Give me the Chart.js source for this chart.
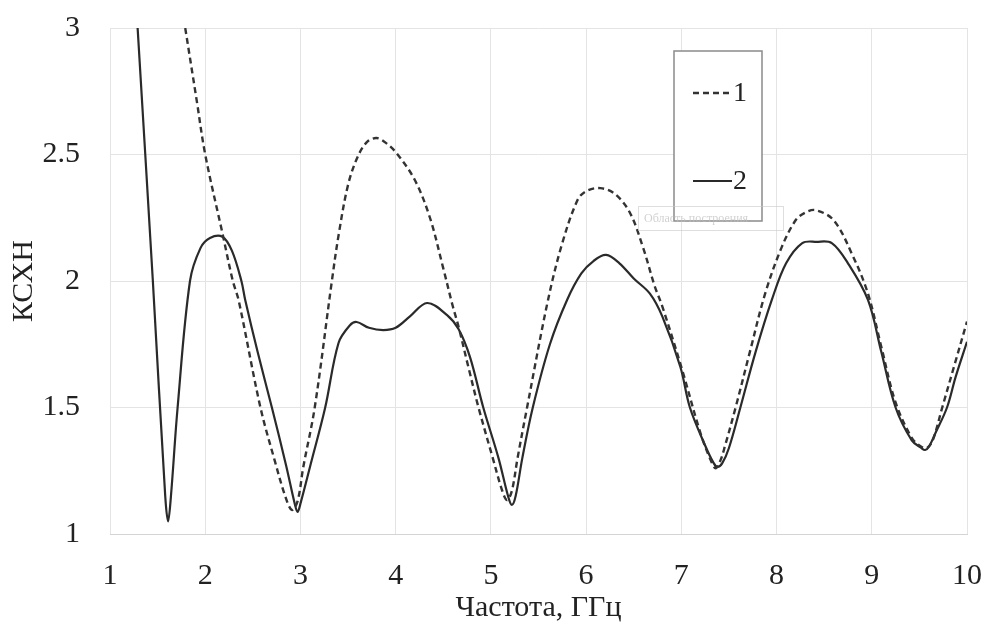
<!DOCTYPE html>
<html>
<head>
<meta charset="utf-8">
<script src="https://cdn.jsdelivr.net/npm/chart.js@4/dist/chart.umd.min.js"></script>
<style>
  body { margin: 0; background: #fff; }
  #wrap { width: 985px; height: 628px; }
</style>
</head>
<body>
<div id="wrap"><canvas id="myChart" width="985" height="628"></canvas></div>
<script>
// curve 1 (dashed)
var freq1 = [1.79, 1.91, 2.0, 2.18, 2.29, 2.35, 2.58, 2.73, 2.84, 2.91, 2.97, 3.03, 3.15, 3.33, 3.4, 3.5, 3.6, 3.7, 3.8, 3.9, 4.01, 4.2, 4.36, 4.5, 4.6, 4.66, 4.77, 4.87, 5.02, 5.12, 5.17, 5.22, 5.28, 5.38, 5.6, 5.75, 5.91, 6.0, 6.15, 6.3, 6.46, 6.6, 6.72, 6.8, 7.0, 7.2, 7.31, 7.36, 7.41, 7.46, 7.57, 7.72, 7.88, 8.05, 8.2, 8.3, 8.41, 8.6, 8.8, 8.96, 9.1, 9.25, 9.42, 9.52, 9.58, 9.64, 9.74, 9.87, 10];
var kshn1 = [3.0, 2.715, 2.5, 2.19, 2.0, 1.925, 1.5, 1.29, 1.15, 1.095, 1.13, 1.265, 1.5, 2.0, 2.18, 2.38, 2.49, 2.55, 2.565, 2.545, 2.505, 2.4, 2.25, 2.05, 1.9, 1.82, 1.65, 1.5, 1.3, 1.17, 1.134, 1.17, 1.3, 1.5, 1.925, 2.15, 2.32, 2.355, 2.367, 2.345, 2.27, 2.13, 1.98, 1.9, 1.66, 1.4, 1.29, 1.26, 1.29, 1.35, 1.5, 1.72, 1.95, 2.13, 2.24, 2.27, 2.28, 2.24, 2.1, 1.95, 1.74, 1.52, 1.38, 1.345, 1.34, 1.37, 1.5, 1.67, 1.84];

// curve 2 (solid)
var freq2 = [1.29, 1.45, 1.58, 1.61, 1.64, 1.71, 1.84, 1.95, 2.05, 2.18, 2.28, 2.38, 2.42, 2.55, 2.7, 2.85, 2.94, 2.97, 3.0, 3.1, 3.26, 3.4, 3.52, 3.59, 3.72, 3.87, 4.0, 4.15, 4.33, 4.54, 4.66, 4.78, 4.92, 5.08, 5.18, 5.22, 5.26, 5.33, 5.44, 5.62, 5.8, 5.95, 6.08, 6.21, 6.35, 6.5, 6.67, 6.8, 6.99, 7.09, 7.25, 7.34, 7.38, 7.43, 7.5, 7.62, 7.78, 7.95, 8.1, 8.27, 8.42, 8.58, 8.75, 8.96, 9.1, 9.25, 9.42, 9.52, 9.56, 9.6, 9.67, 9.79, 9.88, 10];
var kshn2 = [3.0, 2.0, 1.15, 1.05, 1.15, 1.5, 2.0, 2.13, 2.17, 2.175, 2.12, 2.0, 1.925, 1.72, 1.5, 1.27, 1.12, 1.087, 1.12, 1.265, 1.5, 1.755, 1.825, 1.838, 1.815, 1.806, 1.815, 1.86, 1.913, 1.865, 1.81, 1.7, 1.5, 1.3, 1.15, 1.115, 1.15, 1.3, 1.5, 1.75, 1.925, 2.03, 2.08, 2.103, 2.07, 2.01, 1.95, 1.86, 1.66, 1.5, 1.35, 1.28, 1.265, 1.28, 1.34, 1.5, 1.72, 1.925, 2.07, 2.15, 2.155, 2.15, 2.07, 1.925, 1.72, 1.5, 1.37, 1.34, 1.332, 1.345, 1.4, 1.5, 1.62, 1.76];

var labels = ['1', '2'];
var xTitle = 'Частота, ГГц';
var yTitle = 'КСХН';

function toPoints(xs, ys) {
  var pts = [];
  for (var i = 0; i < xs.length; i++) {
    pts.push({ x: xs[i], y: ys[i] });
  }
  return pts;
}

var serif = "'Liberation Serif', 'Times New Roman', serif";

// legend box + the faint "plot area" hint, drawn by hand like the picture
var boxLegend = {
  id: 'boxLegend',
  afterDraw: function(chart) {
    var c = chart.ctx;
    c.save();
    c.fillStyle = '#fff';
    c.fillRect(674, 51, 88, 170);
    c.strokeStyle = '#8a8a8a';
    c.lineWidth = 1.5;
    c.strokeRect(674, 51, 88, 170);

    var rows = [93, 181];
    chart.data.datasets.forEach(function(ds, i) {
      var y = rows[i];
      c.beginPath();
      c.setLineDash(ds.borderDash || []);
      c.strokeStyle = ds.borderColor;
      c.lineWidth = ds.borderWidth;
      c.moveTo(693, y);
      c.lineTo(732, y);
      c.stroke();
      c.setLineDash([]);
      c.fillStyle = '#222';
      c.font = '28px ' + serif;
      c.textAlign = 'left';
      c.textBaseline = 'middle';
      c.fillText(ds.label, 733, y + 1);
    });

    // faint excel tooltip
    c.strokeStyle = 'rgba(200,200,200,0.6)';
    c.lineWidth = 1;
    c.strokeRect(638.5, 206.5, 145, 24);
    c.fillStyle = 'rgba(190,190,190,0.7)';
    c.font = '12px ' + serif;
    c.textBaseline = 'middle';
    c.textAlign = 'left';
    c.fillText('Область построения', 644, 219);
    c.restore();
  }
};

var ctx = document.getElementById('myChart').getContext('2d');
var myChart = new Chart(ctx, {
  type: 'line',
  data: {
    datasets: [
      {
        label: labels[0],
        data: toPoints(freq1, kshn1),
        borderColor: '#333',
        borderWidth: 2.4,
        borderDash: [6, 4],
        pointRadius: 0,
        tension: 0.35,
        fill: false
      },
      {
        label: labels[1],
        data: toPoints(freq2, kshn2),
        borderColor: '#2a2a2a',
        borderWidth: 2.2,
        pointRadius: 0,
        tension: 0.35,
        fill: false
      }
    ]
  },
  options: {
    responsive: false,
    animation: false,
    layout: { padding: { top: 28, right: 18, left: 0, bottom: 0 } },
    plugins: {
      legend: { display: false },
      tooltip: { enabled: false }
    },
    scales: {
      x: {
        type: 'linear',
        min: 1,
        max: 10,
        afterFit: function(s) {
          s.height = 94;
          s.paddingLeft = 0;
          s.paddingRight = 0;
        },
        grid: { color: '#e4e4e4', drawTicks: false },
        border: { color: '#d4d4d4' },
        ticks: {
          stepSize: 1,
          padding: 24,
          color: '#222',
          font: { family: serif, size: 30 }
        },
        title: {
          display: true,
          text: xTitle,
          color: '#222',
          font: { family: serif, size: 30 },
          padding: { top: 0, bottom: 2 }
        }
      },
      y: {
        min: 1,
        max: 3,
        afterFit: function(s) {
          s.width = 110;
          s.paddingTop = 0;
          s.paddingBottom = 0;
        },
        grid: { color: '#e4e4e4', drawTicks: false },
        border: { display: false },
        ticks: {
          stepSize: 0.5,
          padding: 30,
          color: '#222',
          font: { family: serif, size: 30 },
          callback: function(v) { return String(v); }
        },
        title: {
          display: true,
          text: yTitle,
          color: '#222',
          font: { family: serif, size: 30 },
          padding: { top: 6, bottom: 0 }
        }
      }
    }
  },
  plugins: [boxLegend]
});
</script>
</body>
</html>
